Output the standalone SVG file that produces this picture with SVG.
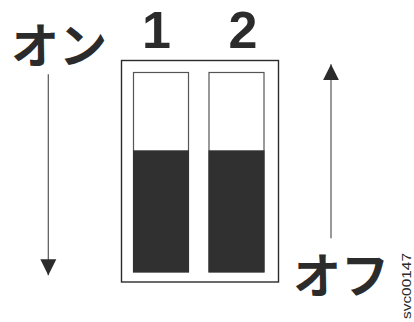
<svg xmlns="http://www.w3.org/2000/svg" width="414" height="322" viewBox="0 0 414 322">
<defs>
<style>
.lbl{font-family:"Noto Sans CJK JP","Noto Sans",sans-serif;font-weight:bold;fill:#2b2b2b}
.num{font-family:"Liberation Sans",Arial,sans-serif;font-weight:bold;fill:#2b2b2b}
.conn{stroke:#555;stroke-width:1.2;fill:none}
.slot{fill:#fff;stroke:#555;stroke-width:1.2}
.dark{fill:#2f302f}
</style>
<marker id="ah" viewBox="0 0 10 10" refX="10" refY="5" markerUnits="userSpaceOnUse" markerWidth="16" markerHeight="17" orient="auto">
<path d="M0,0 L10,5 L0,10 Z" fill="#2b2b2b"/>
</marker>
</defs>
<rect width="414" height="322" fill="#fff"/>
<g id="switch">
<rect x="121.5" y="60.5" width="157" height="221.5" fill="#fff" stroke="#2b2b2b" stroke-width="1.4"/>
<g id="slot1">
<rect class="slot" x="133.5" y="72.5" width="55" height="199.5"/>
<rect class="dark" x="133" y="150.3" width="56" height="122"/>
</g>
<g id="slot2">
<rect class="slot" x="209" y="72.5" width="55" height="199.5"/>
<rect class="dark" x="208.5" y="150.3" width="56" height="122"/>
</g>
</g>
<g id="labels">
<text class="lbl" x="11" y="63" font-size="48">オン</text>
<text class="num" x="156.5" y="48" font-size="52" text-anchor="middle">1</text>
<text class="num" x="243" y="48" font-size="52" text-anchor="middle">2</text>
<text class="lbl" x="293" y="293" font-size="48">オフ</text>
<text font-family="'Liberation Sans',Arial,sans-serif" font-size="12.5" fill="#2b2b2b" transform="translate(411,319) rotate(-90)" textLength="66" lengthAdjust="spacingAndGlyphs">svc00147</text>
</g>
<g id="connectors">
<line class="conn" x1="48.3" y1="74.3" x2="48.3" y2="275.3" marker-end="url(#ah)"/>
<line class="conn" x1="331" y1="238.3" x2="331" y2="64.3" marker-end="url(#ah)"/>
</g>
</svg>
